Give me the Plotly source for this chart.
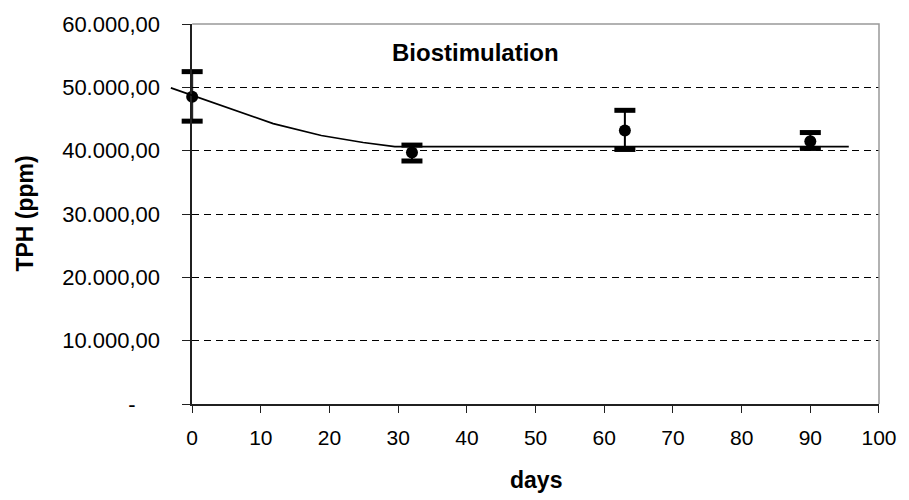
import plotly.graph_objects as go

# ---- data ----
days = [0, 32, 63, 90]
tph_mean = [48500, 39700, 43200, 41500]
err_plus = [3980, 1180, 3170, 1360]
err_minus = [3840, 1330, 3010, 1150]

model_days = [-3.1, 11.8, 18.8, 24.9, 29.5, 95.6]
model_tph = [49920, 44270, 42390, 41290, 40630, 40630]

y_tickvals = [0, 10000, 20000, 30000, 40000, 50000, 60000]
y_ticktext = ["-" + "\u00a0" * 4, "10.000,00", "20.000,00", "30.000,00",
              "40.000,00", "50.000,00", "60.000,00"]
x_tickvals = [0, 10, 20, 30, 40, 50, 60, 70, 80, 90, 100]

title_text = "Biostimulation"
x_title = "days"
y_title = "TPH (ppm)"

# ---- layout geometry ----
W, H = 909, 500
ML, MR, MT, MB = 160, 27, 22, 96
plot_w = W - ML - MR
d0 = (192.3 - ML) / plot_w          # main x-axis domain start
XMIN, XMAX = 0, 100
YMIN, YMAX = 0, 60000
x2_min = XMIN - (XMAX - XMIN) * d0 / (1 - d0)

FONT = "Liberation Sans, Arial, sans-serif"
INK = "#000000"
AXIS = "#202020"
BORDER = "#999999"

upper = [m + p for m, p in zip(tph_mean, err_plus)]
lower = [m - n for m, n in zip(tph_mean, err_minus)]

fig = go.Figure()

# error stems + mean markers
fig.add_trace(go.Scatter(
    x=days, y=tph_mean, mode="markers",
    marker=dict(symbol="circle", size=12, color=INK),
    error_y=dict(type="data", symmetric=False, array=err_plus, arrayminus=err_minus,
                 color=INK, thickness=2, width=0),
    xaxis="x", yaxis="y", showlegend=False, cliponaxis=False,
))
# thick error caps
fig.add_trace(go.Scatter(
    x=days + days, y=upper + lower, mode="markers",
    marker=dict(symbol="line-ew", size=15, line=dict(width=5, color=INK), color=INK),
    xaxis="x", yaxis="y", showlegend=False, cliponaxis=False,
))
# model curve (on a wider, hidden overlay subplot so it may start left of x = 0)
fig.add_trace(go.Scatter(
    x=model_days, y=model_tph, mode="lines",
    line=dict(color=INK, width=1.7),
    xaxis="x2", yaxis="y2", showlegend=False,
))

fig.update_layout(
    width=W, height=H,
    margin=dict(l=ML, r=MR, t=MT, b=MB),
    paper_bgcolor="white", plot_bgcolor="rgba(0,0,0,0)",
    font=dict(family=FONT, color=INK),
    xaxis=dict(
        domain=[d0, 1], range=[XMIN, XMAX], tickvals=x_tickvals,
        showgrid=False, zeroline=False,
        showline=True, linecolor=AXIS, linewidth=1.5,
        ticks="outside", ticklen=7, tickwidth=1, tickcolor=AXIS,
        tickfont=dict(size=21, family=FONT, color=INK),
        ticklabelstandoff=7, anchor="y",
    ),
    yaxis=dict(
        domain=[0, 1], range=[YMIN, YMAX], tickvals=y_tickvals, ticktext=y_ticktext,
        showgrid=True, gridcolor=INK, gridwidth=1, griddash="7px,5px",
        zeroline=False,
        showline=True, linecolor=AXIS, linewidth=1.5,
        ticks="outside", ticklen=8, tickwidth=1, tickcolor=AXIS,
        tickfont=dict(size=22, family=FONT, color=INK),
        ticklabelstandoff=18, anchor="x",
    ),
    xaxis2=dict(domain=[0, 1], range=[x2_min, XMAX], visible=False, anchor="y2"),
    yaxis2=dict(domain=[0, 1], range=[YMIN, YMAX], visible=False, anchor="x2"),
    shapes=[
        dict(type="path", xref="x domain", yref="y domain",
             path="M 0 1 L 1 1 L 1 0", line=dict(color=BORDER, width=1.5), layer="above"),
    ],
    annotations=[
        dict(text="<b>%s</b>" % title_text, xref="paper", yref="paper",
             x=(477 - ML) / plot_w, y=(H - MB - 51) / (H - MT - MB),
             xanchor="center", yanchor="middle", showarrow=False,
             font=dict(size=24, family=FONT, color=INK)),
        dict(text="<b>%s</b>" % x_title, xref="paper", yref="paper",
             x=d0 + (1 - d0) / 2, y=(H - MB - 480) / (H - MT - MB),
             xanchor="center", yanchor="middle", showarrow=False,
             font=dict(size=23, family=FONT, color=INK)),
        dict(text="<b>%s</b>" % y_title, xref="paper", yref="paper",
             x=(24 - ML) / plot_w, y=0.5, textangle=-90,
             xanchor="center", yanchor="middle", showarrow=False,
             font=dict(size=23, family=FONT, color=INK)),
    ],
)

fig.write_html(
    "out.html",
    config={"displayModeBar": False},
    post_script="document.body.style.margin='0';document.body.style.overflow='hidden';",
)
